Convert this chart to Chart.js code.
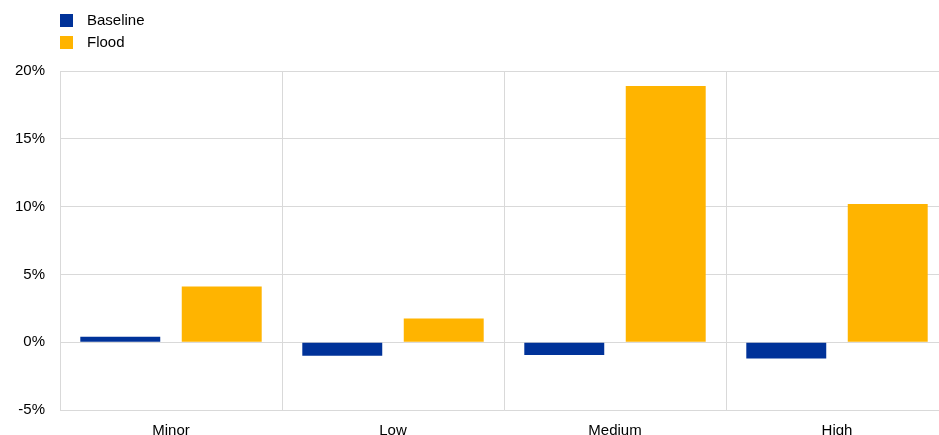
<!DOCTYPE html>
<html>
<head>
<meta charset="UTF-8">
<title>Baseline vs Flood</title>
<script src="https://cdn.jsdelivr.net/npm/chart.js@4/dist/chart.umd.min.js"></script>
<style>
  html, body { margin: 0; padding: 0; background: #fff; overflow: hidden; }
  #wrap { position: relative; width: 950px; height: 460px; }
  #legend { position: absolute; left: 60px; top: 11px; font-family: "Liberation Sans", Arial, sans-serif; font-size: 15px; color: #000; }
  #legend div { height: 22px; line-height: 17px; }
  #legend span { display: inline-block; width: 13px; height: 13px; margin-right: 14px; vertical-align: -2px; }
</style>
</head>
<body>
<div id="wrap">
  <div id="legend"></div>
  <canvas id="chart" width="950" height="460"></canvas>
</div>
<script>
// values, in %
var categories   = ['Minor', 'Low', 'Medium', 'High'];
var baselineVals = [0.4, -1.0, -0.95, -1.2];
var floodVals    = [4.1, 1.75, 18.9, 10.2];
var seriesNames  = ['Baseline', 'Flood'];
var seriesColors = ['#003299', '#FFB400'];
var yTicks       = [-5, 0, 5, 10, 15, 20];

var FONT = '"Liberation Sans", Arial, sans-serif';

// html legend, stacked like the original
var legendEl = document.getElementById('legend');
seriesNames.forEach(function (name, i) {
    var row = document.createElement('div');
    var box = document.createElement('span');
    box.style.background = seriesColors[i];
    row.appendChild(box);
    row.appendChild(document.createTextNode(name));
    legendEl.appendChild(row);
});

new Chart(document.getElementById('chart'), {
    type: 'bar',
    data: {
        labels: categories,
        datasets: [
            { label: seriesNames[0], data: baselineVals, backgroundColor: seriesColors[0] },
            { label: seriesNames[1], data: floodVals, backgroundColor: seriesColors[1] }
        ]
    },
    options: {
        responsive: false,
        animation: false,
        categoryPercentage: 0.914,
        barPercentage: 0.788,
        layout: { padding: { top: 71, right: 2, left: 0, bottom: 0 } },
        plugins: { legend: { display: false }, tooltip: { enabled: false } },
        scales: {
            x: {
                afterFit: function (scale) { scale.height = 50; },
                grid: { color: '#d9d9d9', lineWidth: 1, drawTicks: false, offset: true },
                border: { color: '#d9d9d9' },
                ticks: { color: '#000', font: { family: FONT, size: 15 }, padding: 12, maxRotation: 0 }
            },
            y: {
                min: -5,
                max: 20,
                afterFit: function (scale) { scale.width = 60; },
                afterBuildTicks: function (scale) {
                    scale.ticks = yTicks.map(function (v) { return { value: v }; });
                },
                grid: { color: '#d9d9d9', lineWidth: 1, drawTicks: false },
                border: { color: '#d9d9d9' },
                ticks: {
                    color: '#000',
                    font: { family: FONT, size: 15 },
                    padding: 15,
                    callback: function (v) { return v + '%'; }
                }
            }
        }
    }
});
</script>
</body>
</html>
